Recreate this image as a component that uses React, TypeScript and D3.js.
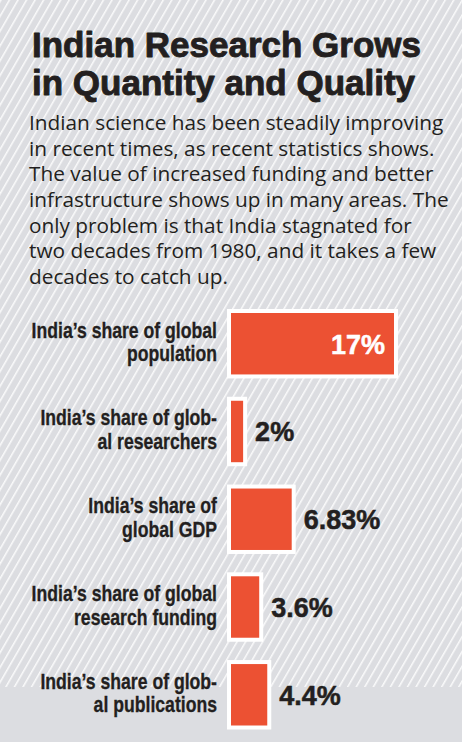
import React from "react";
import * as d3 from "d3";

const TITLE_LINES = ["Indian Research Grows", "in Quantity and Quality"];
const BODY_LINES = [
  "Indian science has been steadily improving",
  "in recent times, as recent statistics shows.",
  "The value of increased funding and better",
  "infrastructure shows up in many areas. The",
  "only problem is that India stagnated for",
  "two decades from 1980, and it takes a few",
  "decades to catch up.",
];
const CATEGORIES = [
  ["India\u2019s share of global", "population"],
  ["India\u2019s share of glob-", "al researchers"],
  ["India\u2019s share of", "global GDP"],
  ["India\u2019s share of global", "research funding"],
  ["India\u2019s share of glob-", "al publications"],
];
const VALUES = [17, 2, 6.83, 3.6, 4.4];
const VALUE_LABELS = ["17%", "2%", "6.83%", "3.6%", "4.4%"];

const W = 462;
const H = 742;
const BG = "#dcdde1";
const RED = "#ec5133";
const INK = "#231f20";
const BOLD = "'Liberation Sans', Arial, sans-serif";
const BODY = "'Open Sans', 'Liberation Sans', sans-serif";

export default function App() {
  const barX0 = 227;
  const border = 4;
  const x = d3.scaleLinear().domain([0, 17]).range([0, 171]);
  const idx = VALUES.map((_, i) => i);
  const y = d3
    .scaleBand<number>()
    .domain(idx)
    .range([313, 725.5])
    .paddingInner(0.3)
    .paddingOuter(0);
  const labelRight = 217;
  const squeeze = 0.82;

  return (
    <svg
      width={W}
      height={H}
      viewBox={`0 0 ${W} ${H}`}
      style={{ position: "absolute", left: 0, top: 0, display: "block" }}
    >
      <defs>
        <pattern
          id="stripes"
          width={7.4}
          height={20}
          patternUnits="userSpaceOnUse"
          patternTransform="rotate(30)"
        >
          <rect x={0} y={0} width={1.5} height={20} fill="#ffffff" opacity={0.85} />
        </pattern>
      </defs>
      <rect x={0} y={0} width={W} height={H} fill={BG} />
      <rect x={0} y={0} width={W} height={687} fill="url(#stripes)" />

      {TITLE_LINES.map((t, i) => (
        <text
          key={t}
          x={32}
          y={57 + i * 37.5}
          fontFamily={BOLD}
          fontWeight={700}
          fontSize={35}
          fill={INK}
          stroke={INK}
          strokeWidth={0.9}
          strokeLinejoin="round"
        >
          {t}
        </text>
      ))}

      {BODY_LINES.map((t, i) => (
        <text
          key={i}
          x={29}
          y={130 + i * 25.67}
          fontFamily={BODY}
          fontSize={20.8}
          fill={INK}
        >
          {t}
        </text>
      ))}

      {VALUES.map((v, i) => {
        const top = y(i)!;
        const bh = y.bandwidth();
        const cy = top + bh / 2;
        const outerW = x(v);
        const inside = outerW > 100;
        return (
          <g key={i}>
            <rect
              x={barX0}
              y={top - border}
              width={outerW}
              height={bh + border * 2}
              fill="#ffffff"
            />
            <rect
              x={barX0 + border}
              y={top}
              width={outerW - border * 2}
              height={bh}
              fill={RED}
            />
            <g transform={`scale(${squeeze},1)`}>
              {CATEGORIES[i].map((line, j) => (
                <text
                  key={j}
                  x={labelRight / squeeze}
                  y={cy - 6 + j * 23.5}
                  textAnchor="end"
                  fontFamily={BOLD}
                  fontWeight={700}
                  fontSize={21.5}
                  fill={INK}
                  stroke={INK}
                  strokeWidth={0.3}
                >
                  {line}
                </text>
              ))}
            </g>
            <text
              x={inside ? barX0 + outerW - border - 9 : barX0 + outerW + 8}
              y={cy + 10}
              textAnchor={inside ? "end" : "start"}
              fontFamily={BOLD}
              fontWeight={700}
              fontSize={27}
              fill={inside ? "#ffffff" : INK}
              stroke={inside ? "#ffffff" : INK}
              strokeWidth={0.5}
            >
              {VALUE_LABELS[i]}
            </text>
          </g>
        );
      })}
    </svg>
  );
}
